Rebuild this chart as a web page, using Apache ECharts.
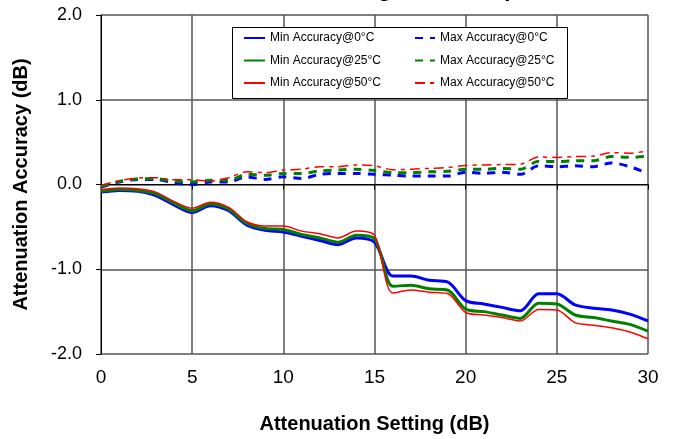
<!DOCTYPE html>
<html style="height: 100%">
<head>
    <meta charset="UTF-8">
    <title>Attenuation Accuracy</title>
    <script src="https://cdn.jsdelivr.net/npm/echarts@6/dist/echarts.min.js"></script>
</head>
<body style="height: 100%; margin: 0">
    <div id="main" style="width: 673px; height: 439px;"></div>

    <script>
        // attenuation setting (dB)
        var settings = [0, 1, 2, 3, 4, 5, 6, 7, 8, 9, 10, 11, 12, 13, 14, 15,
            16, 17, 18, 19, 20, 21, 22, 23, 24, 25, 26, 27, 28, 29, 30];

        // min accuracy (dB)
        var min0 = [-0.09, -0.07, -0.08, -0.13, -0.24, -0.33, -0.25, -0.31, -0.48, -0.54, -0.56,
            -0.61, -0.66, -0.71, -0.63, -0.68, -1.08, -1.08, -1.13, -1.15, -1.37,
            -1.41, -1.45, -1.49, -1.29, -1.29, -1.42, -1.46, -1.48, -1.53, -1.61];
        var min25 = [-0.08, -0.06, -0.07, -0.11, -0.22, -0.31, -0.23, -0.29, -0.46, -0.52, -0.53,
            -0.59, -0.63, -0.68, -0.60, -0.64, -1.20, -1.19, -1.23, -1.245, -1.47,
            -1.50, -1.54, -1.58, -1.40, -1.41, -1.54, -1.57, -1.61, -1.65, -1.73];
        var min50 = [-0.06, -0.04, -0.05, -0.09, -0.20, -0.28, -0.21, -0.27, -0.44, -0.49, -0.49,
            -0.55, -0.58, -0.63, -0.55, -0.60, -1.28, -1.245, -1.27, -1.285, -1.51,
            -1.54, -1.57, -1.61, -1.475, -1.48, -1.63, -1.66, -1.69, -1.74, -1.82];

        // max accuracy (dB)
        var max0 = [-0.03, 0.03, 0.06, 0.06, 0.02, 0.00, 0.03, 0.03, 0.09, 0.06, 0.09,
            0.07, 0.12, 0.13, 0.13, 0.12, 0.11, 0.10, 0.10, 0.10, 0.145,
            0.13, 0.145, 0.12, 0.22, 0.21, 0.22, 0.21, 0.255, 0.21, 0.13];
        var max25 = [-0.025, 0.035, 0.065, 0.07, 0.04, 0.03, 0.05, 0.05, 0.12, 0.11, 0.13,
            0.13, 0.16, 0.17, 0.18, 0.165, 0.14, 0.14, 0.15, 0.155, 0.18,
            0.18, 0.19, 0.18, 0.275, 0.27, 0.28, 0.28, 0.33, 0.32, 0.335];
        var max50 = [-0.01, 0.045, 0.075, 0.08, 0.055, 0.055, 0.04, 0.08, 0.15, 0.14, 0.17,
            0.18, 0.21, 0.21, 0.23, 0.22, 0.175, 0.18, 0.19, 0.20, 0.225,
            0.23, 0.235, 0.24, 0.325, 0.32, 0.33, 0.335, 0.375, 0.37, 0.395];

        var FONT = 'Arial, "Liberation Sans", sans-serif';

        function pairs(ys) {
            return settings.map(function (x, i) { return [x, ys[i]]; });
        }

        function makeSeries(name, ys, color, width, type) {
            return {
                name: name,
                type: 'line',
                data: pairs(ys),
                smooth: 0.3,
                symbol: 'none',
                color: color,
                lineStyle: { color: color, width: width, type: type }
            };
        }

        var myChart = echarts.init(document.getElementById('main'));

        // shared legend look: line only, no marker
        var legendBase = {
            orient: 'vertical',
            top: 32,
            padding: 0,
            z: 10,
            itemHeight: 12,
            itemGap: 10.5,
            itemStyle: { opacity: 0 },
            textStyle: { fontFamily: FONT, fontSize: 12, color: '#000' }
        };

        var option = {
            animation: false,
            title: {
                text: 'Attenuation Setting over Temperature',
                left: 166,
                top: -28,
                textStyle: { fontFamily: FONT, fontSize: 24, fontWeight: 'bold', color: '#000' }
            },
            legend: [
                Object.assign({}, legendBase, {
                    left: 243,
                    itemWidth: 21,
                    data: ['Min Accuracy@0°C', 'Min Accuracy@25°C', 'Min Accuracy@50°C']
                }),
                Object.assign({}, legendBase, {
                    left: 414,
                    itemWidth: 20,
                    data: ['Max Accuracy@0°C', 'Max Accuracy@25°C', 'Max Accuracy@50°C']
                })
            ],
            graphic: [{
                type: 'rect',
                left: 232,
                top: 27,
                shape: { width: 335, height: 71 },
                style: { fill: '#fff', stroke: '#000', lineWidth: 1 },
                z: 3
            }],
            grid: {
                left: 101,
                right: 25,
                top: 15,
                bottom: 83
            },
            xAxis: {
                type: 'value',
                min: 0,
                max: 30,
                interval: 5,
                name: 'Attenuation Setting (dB)',
                nameLocation: 'middle',
                nameGap: 60,
                nameTextStyle: { fontFamily: FONT, fontSize: 20, fontWeight: 'bold', color: '#000' },
                axisLine: { lineStyle: { color: '#000', width: 1 } },
                axisTick: { show: true, inside: false, length: 5, lineStyle: { color: '#000' } },
                axisLabel: { fontFamily: FONT, fontSize: 19, color: '#000', margin: 14 },
                splitLine: { show: true, lineStyle: { color: '#555', width: 1.5 } }
            },
            yAxis: {
                type: 'value',
                min: -2,
                max: 2,
                interval: 1,
                name: 'Attenuation Accuracy (dB)',
                nameLocation: 'middle',
                nameGap: 70,
                nameTextStyle: { fontFamily: FONT, fontSize: 20, fontWeight: 'bold', color: '#000' },
                axisLine: { show: true, lineStyle: { color: '#000', width: 1 } },
                axisTick: { show: true, inside: false, length: 5, lineStyle: { color: '#000' } },
                axisLabel: {
                    fontFamily: FONT, fontSize: 18, color: '#000', margin: 19,
                    formatter: function (v) { return v.toFixed(1); }
                },
                splitLine: { show: true, lineStyle: { color: '#555', width: 1.5 } }
            },
            series: [
                makeSeries('Min Accuracy@0°C', min0, '#0000FF', 3, 'solid'),
                makeSeries('Max Accuracy@0°C', max0, '#0000FF', 3, [8, 7]),
                makeSeries('Min Accuracy@25°C', min25, '#008000', 3, 'solid'),
                makeSeries('Max Accuracy@25°C', max25, '#008000', 3, [8, 7]),
                makeSeries('Min Accuracy@50°C', min50, '#FF0000', 1.5, 'solid'),
                makeSeries('Max Accuracy@50°C', max50, '#FF0000', 1.5, [10, 5, 4, 5])
            ]
        };

        myChart.setOption(option);
    </script>
</body>
</html>
